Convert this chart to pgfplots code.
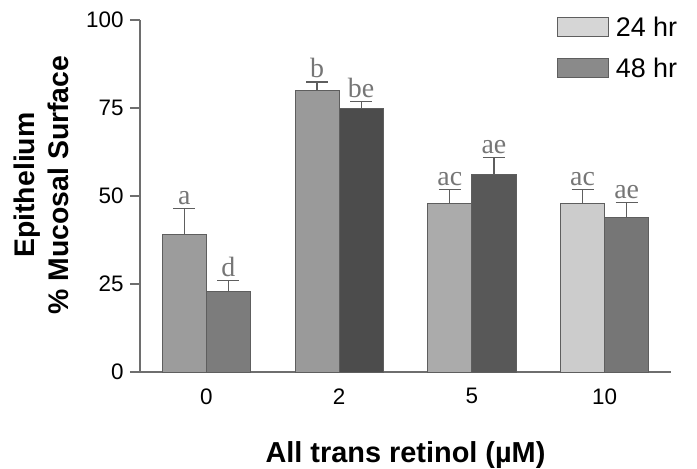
\documentclass[border=0pt]{standalone}
\usepackage{fontspec}
\setmainfont{Liberation Sans}
\newfontfamily\letterfont{Liberation Serif}
\usepackage{pgfplots}
\pgfplotsset{compat=1.18}
\definecolor{axisgray}{HTML}{6E6E6E}
\definecolor{barline}{HTML}{5E5E5E}
\definecolor{lettergray}{HTML}{767676}
\definecolor{cA}{HTML}{9C9C9C}
\definecolor{cB}{HTML}{7C7C7C}
\definecolor{cC}{HTML}{9A9A9A}
\definecolor{cD}{HTML}{4C4C4C}
\definecolor{cE}{HTML}{ABABAB}
\definecolor{cF}{HTML}{585858}
\definecolor{cG}{HTML}{CCCCCC}
\definecolor{cH}{HTML}{767676}
\definecolor{legA}{HTML}{D6D6D6}
\definecolor{legB}{HTML}{8A8A8A}
\pgfplotsset{
  mybar/.style={ybar, bar width=0.332, bar shift=0, fill=#1, draw=barline, line width=0.8bp, forget plot,
    error bars/.cd, y dir=plus, y explicit,
    error bar style={draw=barline, line width=1.3bp},
    error mark options={draw=barline, line width=1.3bp, mark size=11bp, rotate=90}},
}
\begin{document}
\begin{tikzpicture}
\begin{axis}[
  scale only axis, width=531bp, height=352bp,
  xmin=-0.5, xmax=3.5, ymin=0, ymax=100,
  axis x line*=bottom, axis y line*=left,
  axis line style={draw=axisgray, line width=1.3bp},
  xtick={0,1,2,3}, xticklabels={0,2,5,10},
  major x tick style={draw=none},
  ytick={0,25,50,75,100},
  tick align=outside, major tick length=10bp,
  major y tick style={draw=axisgray, line width=1.3bp},
  /pgf/number format/assume math mode=true,
  ticklabel style={font=\fontsize{22.5}{26}\selectfont},
  xticklabel style={yshift=-3bp},
  yticklabel style={xshift=-3bp},
  xlabel={All trans retinol (\textmu M)},
  xlabel style={font=\bfseries\fontsize{29}{34}\selectfont, at={(rel axis cs:0.5,-0.2585)}, anchor=base},
  ylabel={Epithelium\\\% Mucosal Surface},
  ylabel style={font=\bfseries\fontsize{28.5}{34}\selectfont, align=center, at={(rel axis cs:-0.128,0.531)}, anchor=south, rotate=0},
  legend style={at={(rel axis cs:0.785,1.014)}, anchor=north west, draw=none, fill=none,
    font=\fontsize{27}{31}\selectfont, row sep=16bp, inner sep=0pt, outer sep=0pt,
    cells={anchor=west}},
  legend image code/.code={\draw[#1, line width=1bp] (0bp,-9bp) rectangle (51bp,10bp);},
  clip=false,
]
\addlegendimage{fill=legA, draw=barline}
\addlegendentry{\hspace{5bp}24 hr}
\addlegendimage{fill=legB, draw=barline}
\addlegendentry{\hspace{5bp}48 hr}
% 24 hr (left bar of each group)
\addplot[mybar=cA] coordinates {(-0.166,39) +- (0,7.4)};
\addplot[mybar=cC] coordinates {(0.834,80) +- (0,2.4)};
\addplot[mybar=cE] coordinates {(1.834,48) +- (0,3.9)};
\addplot[mybar=cG] coordinates {(2.834,48) +- (0,3.9)};
% 48 hr (right bar of each group)
\addplot[mybar=cB] coordinates {(0.166,23) +- (0,2.9)};
\addplot[mybar=cD] coordinates {(1.166,75) +- (0,1.8)};
\addplot[mybar=cF] coordinates {(2.166,56) +- (0,5.0)};
\addplot[mybar=cH] coordinates {(3.166,44) +- (0,4.1)};
% significance letters
\begin{scope}[every node/.style={font=\letterfont\fontsize{28}{32}\selectfont, text=lettergray, anchor=base, yshift=4bp, inner sep=0pt}]
\node at (axis cs:-0.166,46.4) {a};
\node at (axis cs:0.166,25.9) {d};
\node at (axis cs:0.834,82.4) {b};
\node at (axis cs:1.166,76.8) {be};
\node at (axis cs:1.834,51.9) {ac};
\node at (axis cs:2.166,61.0) {ae};
\node at (axis cs:2.834,51.9) {ac};
\node at (axis cs:3.166,48.1) {ae};
\end{scope}
\end{axis}
\pgfresetboundingbox
\path ([xshift=-140bp,yshift=-97bp]current axis.south west) rectangle ([xshift=26bp,yshift=20bp]current axis.north east);
\end{tikzpicture}
\end{document}
